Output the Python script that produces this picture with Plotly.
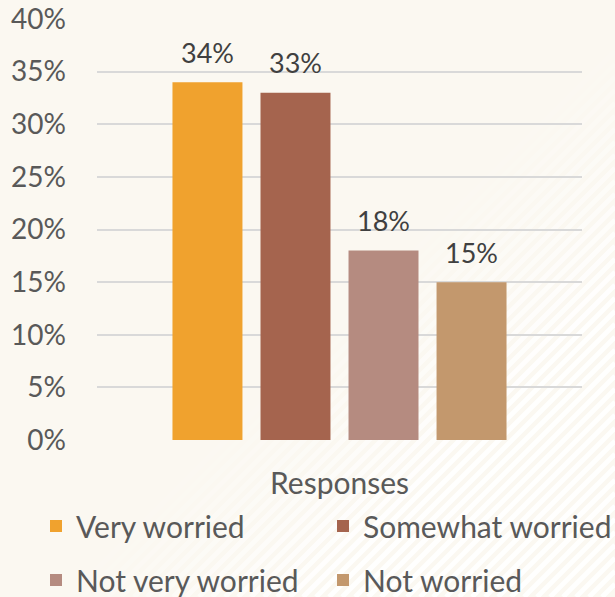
import plotly.graph_objects as go

categories = ["Responses"]
answers = ["Very worried", "Somewhat worried", "Not very worried", "Not worried"]
shares = [34, 33, 18, 15]
colors = ["#F0A22E", "#A5644E", "#B58B80", "#C3986D"]
tick_vals = [0, 5, 10, 15, 20, 25, 30, 35, 40]
tick_text = ["0%", "5%", "10%", "15%", "20%", "25%", "30%", "35%", "40%"]

FONT = "Lato"
W, H = 615, 597
ML, MR, MT, MB = 97, 33, 19, 157
SLOT = 88  # px between neighbouring bar centres

# legend slots: (x of text start, y of row centre) in page pixels
legend_pos = [(76, 526), (363, 526), (76, 580), (363, 580)]
legend_ids = ["legend", "legend2", "legend3", "legend4"]

fig = go.Figure()
for i, (name, val, col) in enumerate(zip(answers, shares, colors)):
    fig.add_trace(go.Bar(
        x=categories, y=[val], name=name,
        marker=dict(color=col, line=dict(width=0)),
        legend=legend_ids[i],
    ))
    fig.add_annotation(
        x=categories[0], y=val, xref="x", yref="y",
        text=f"{val}%", showarrow=False,
        xshift=(i - 1.5) * SLOT, yshift=30,
        font=dict(family=FONT, size=27, color="#404040"),
    )

legends = {}
for lid, (tx, ty) in zip(legend_ids, legend_pos):
    legends[lid] = dict(
        xref="container", yref="container",
        x=(tx - 40) / W, xanchor="left", y=1 - ty / H, yanchor="middle",
        font=dict(family=FONT, size=30, color="#595959"),
        bgcolor="rgba(0,0,0,0)",
    )

# faint diagonal texture in the lower right of the background
pw, ph = W - ML - MR, H - MT - MB
def px(x):
    return (x - ML) / pw
def py(y):
    return (H - MB - y) / ph
shapes = []
for c in range(640, 1220, 13):
    a = min(0.9, (c - 640) / 300)
    shapes.append(dict(
        type="line", xref="paper", yref="paper", layer="below",
        x0=px(c - H), y0=py(H), x1=px(W), y1=py(c - W),
        line=dict(color=f"rgba(255,255,255,{a:.2f})", width=5),
    ))

fig.update_layout(
    width=W, height=H,
    paper_bgcolor="#FBF8F1", plot_bgcolor="rgba(0,0,0,0)",
    margin=dict(l=ML, r=MR, t=MT, b=MB, autoexpand=False),
    barmode="group", bargap=0.274, bargroupgap=0.205,
    font=dict(family=FONT, size=27, color="#595959"),
    showlegend=True,
    shapes=shapes,
    **legends,
)
fig.update_xaxes(showgrid=False, showline=False, ticks="", ticklabelstandoff=23,
                 automargin=False, tickfont=dict(size=30, color="#595959"))
fig.update_yaxes(
    range=[0, 40], tickvals=tick_vals, ticktext=tick_text,
    showgrid=True, gridcolor="#D9D9D9", gridwidth=2,
    zeroline=False, showline=False, ticks="", ticklabelstandoff=30,
    automargin=False, tickfont=dict(size=28, color="#595959"),
)

fig.write_html("out.html", config={"displayModeBar": False},
               post_script="document.body.style.margin='0';")
